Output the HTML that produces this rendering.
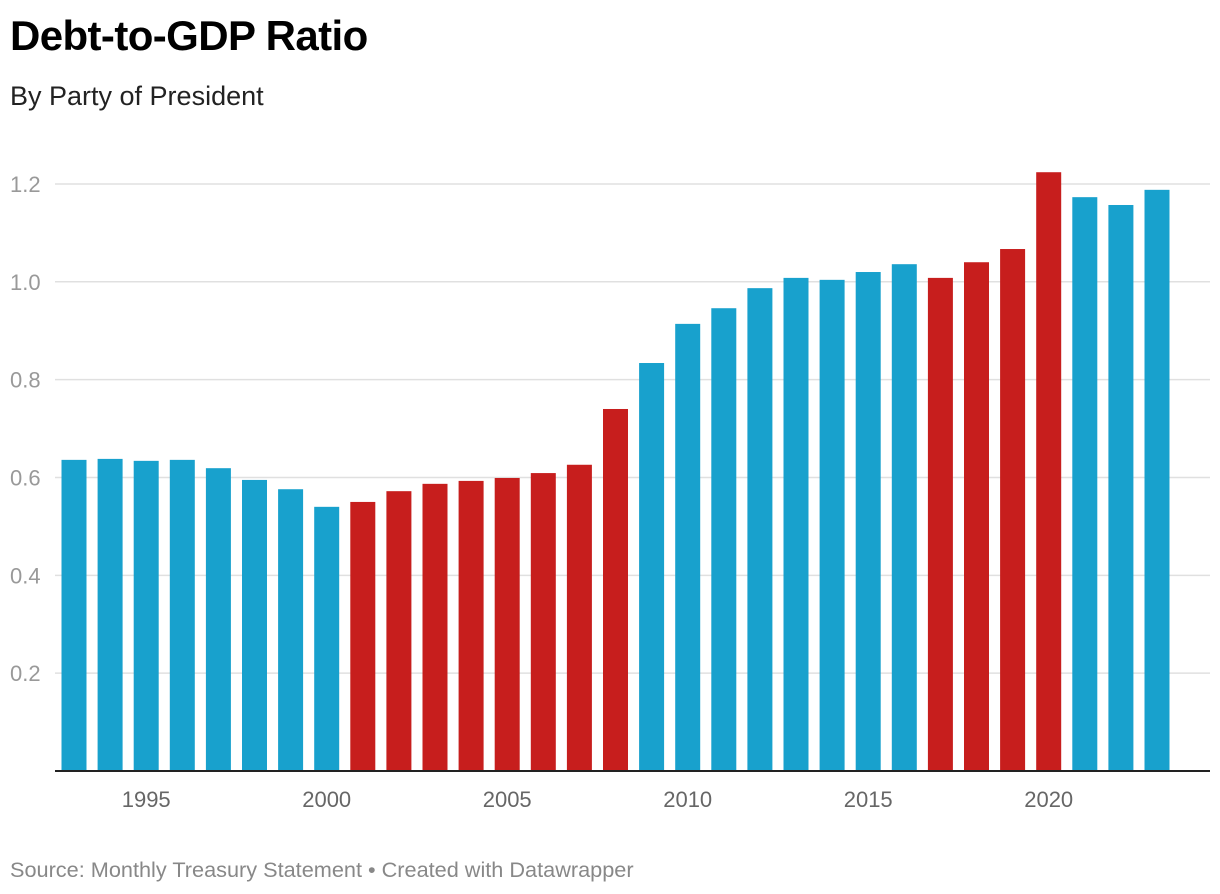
<!DOCTYPE html>
<html><head><meta charset="utf-8">
<style>
body{margin:0;background:#fff;font-family:"Liberation Sans",sans-serif;}
#wrap{position:relative;width:1220px;height:894px;overflow:hidden;}
h1{position:absolute;left:10px;top:12px;margin:0;font-size:42px;font-weight:bold;color:#000;letter-spacing:-0.6px}
.sub{position:absolute;left:10px;top:81px;font-size:27px;color:#222}
.foot{position:absolute;left:10px;top:857px;font-size:21.7px;color:#888}
svg{position:absolute;left:0;top:0}
</style></head><body>
<div id="wrap">
<h1>Debt-to-GDP Ratio</h1>
<div class="sub">By Party of President</div>
<svg id="chart" width="1220" height="894"></svg>
<div class="foot">Source: Monthly Treasury Statement • Created with Datawrapper</div>
</div>
<script>
const years=[1993,1994,1995,1996,1997,1998,1999,2000,2001,2002,2003,2004,2005,2006,2007,2008,2009,2010,2011,2012,2013,2014,2015,2016,2017,2018,2019,2020,2021,2022,2023];
const ratios=[0.636,0.638,0.634,0.636,0.619,0.595,0.576,0.540,0.550,0.572,0.587,0.593,0.599,0.609,0.626,0.740,0.834,0.914,0.946,0.987,1.008,1.004,1.020,1.036,1.008,1.040,1.067,1.224,1.173,1.157,1.188];
const parties=["D","D","D","D","D","D","D","D","R","R","R","R","R","R","R","R","D","D","D","D","D","D","D","D","R","R","R","R","D","D","D"];
const yTicks=[0.2,0.4,0.6,0.8,1.0,1.2];
const xTicks=[1995,2000,2005,2010,2015,2020];
const NS="http://www.w3.org/2000/svg";
const svg=document.getElementById('chart');
const y0=771,yScale=489.2;
function y(v){return y0-v*yScale;}
function x(yr){return 74+(yr-1993)*36.1;}
function mk(t,a){const e=document.createElementNS(NS,t);for(const k in a)e.setAttribute(k,a[k]);svg.appendChild(e);return e;}
yTicks.forEach(t=>{
  const l=mk('line',{x1:55,x2:1210,y1:y(t),y2:y(t),stroke:'#e0e0e0','stroke-width':1.5});
  
  
  const tx=mk('text',{x:10,y:y(t)+8,'font-size':22,fill:'#999'});
  tx.textContent=t.toFixed(1);
  
  
});
years.forEach((yr,i)=>{
  const r=mk('rect',{x:x(yr)-12.5,y:y(ratios[i]),width:25,height:y0-y(ratios[i]),fill:parties[i]==='D'?'#18a1cd':'#c71e1d'});
  
  
});
const bl=mk('line',{x1:55,x2:1210,y1:y0,y2:y0,stroke:'#222','stroke-width':2});


xTicks.forEach(t=>{
  const tx=mk('text',{x:x(t),y:807,'font-size':22,fill:'#666','text-anchor':'middle'});
  tx.textContent=t;
  
  
});
</script>
</body></html>
